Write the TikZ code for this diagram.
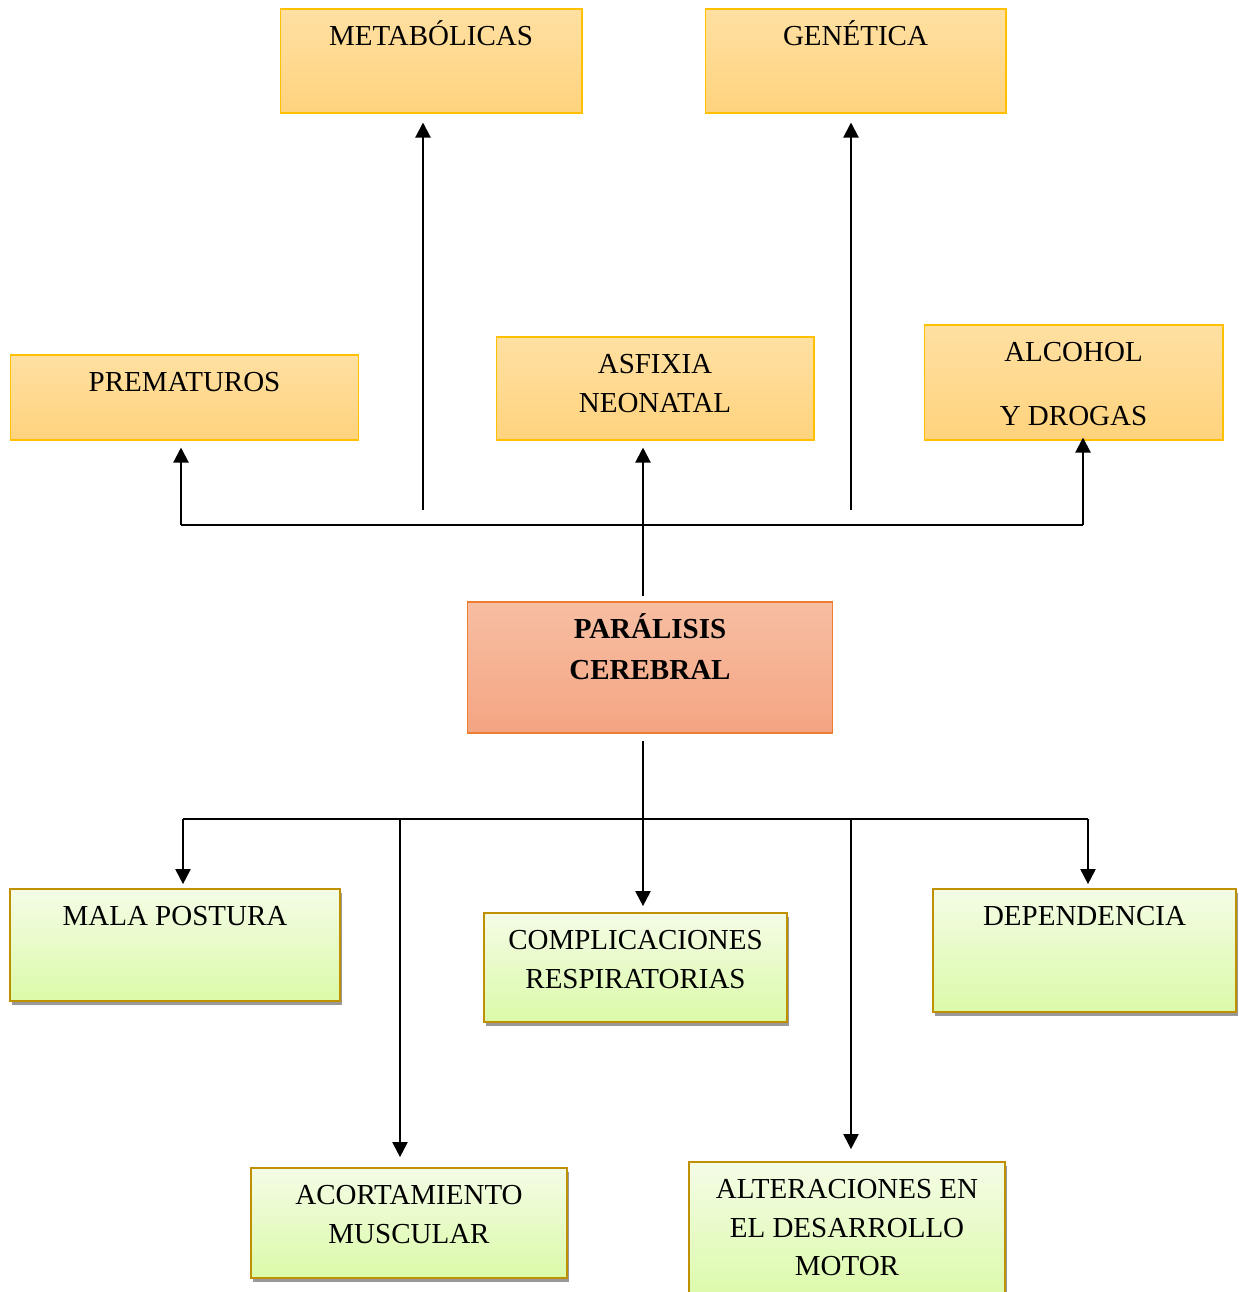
\documentclass[tikz,border=0pt]{standalone}
\usepackage{fontspec}
\setmainfont{Liberation Serif}
\usetikzlibrary{
  arrows.meta,
  shadows,
  calc}
\definecolor{causetop}{RGB}{255,224,162}
\definecolor{causebot}{RGB}{255,211,125}
\definecolor{causeline}{RGB}{255,192,0}
\definecolor{maintop}{RGB}{247,190,163}
\definecolor{mainbot}{RGB}{244,165,130}
\definecolor{mainline}{RGB}{237,125,49}
\definecolor{effecttop}{RGB}{244,252,230}
\definecolor{effectbot}{RGB}{219,250,168}
\definecolor{effectline}{RGB}{191,144,0}
%% fixed height of the first text line, so every box text starts alike
\newcommand{\boxstrut}{\rule{0pt}{15pt}}
\tikzset{
  %% boxtext : the text at the top of a box
  boxtext/.style={
    anchor=north,
    yshift=-0.213cm,
    inner sep=0pt,
    align=center
  },
  %% cause : a cause of the disorder (upper boxes)
  cause/.style={
    rectangle,
    draw=causeline,
    line width=0.6pt,
    top color=causetop,
    bottom color=causebot,
    label={[boxtext]north:\boxstrut#1}
  },
  %% disorder : the central box
  disorder/.style={
    rectangle,
    draw=mainline,
    line width=0.6pt,
    top color=maintop,
    bottom color=mainbot,
    label={[boxtext, font=\fontsize{16.5}{23}\selectfont\bfseries]north:\boxstrut#1}
  },
  %% effect : a consequence (lower boxes)
  effect/.style={
    rectangle,
    draw=effectline,
    line width=1pt,
    top color=effecttop,
    bottom color=effectbot,
    drop shadow={shadow xshift=0.04cm, shadow yshift=-0.08cm, fill=black!40, opacity=1},
    label={[boxtext]north:\boxstrut#1}
  },
  %% link : plain connector
  link/.style={line width=1.2pt},
  %% arrow : connector with a tip
  arrow/.style={link, -{Triangle[width=0.3cm, length=0.3cm]}}
}

\begin{document}
\begin{tikzpicture}
  [x=0.02cm,
  y=-0.02cm,
  font=\fontsize{16.5}{22}\selectfont]

  \useasboundingbox (0, 0) rectangle (1238, 1292);

  %% Causes
  \node (metab) [cause={METABÓLICAS}, minimum width=6.04cm, minimum height=2.08cm]
  at (431, 61) {};
  \node (genet) [cause={GENÉTICA}, minimum width=6.02cm, minimum height=2.08cm]
  at (855.5, 61) {};
  \node (premat) [cause={PREMATUROS}, minimum width=6.98cm, minimum height=1.70cm]
  at (184.5, 397.5) {};
  \node (asfix) [cause={ASFIXIA\\NEONATAL}, minimum width=6.36cm, minimum height=2.06cm]
  at (655, 388.5) {};
  \node (alcoh) [cause={ALCOHOL\\[14pt]Y DROGAS}, minimum width=5.98cm, minimum height=2.30cm]
  at (1073.5, 382.5) {};

  %% Disorder
  \node (pc) [disorder={PARÁLISIS\\CEREBRAL}, minimum width=7.32cm, minimum height=2.62cm]
  at (650, 667.5) {};

  %% Effects
  \node (mala) [effect={MALA POSTURA}, minimum width=6.60cm, minimum height=2.24cm]
  at (175, 945) {};
  \node (compl) [effect={COMPLICACIONES\\RESPIRATORIAS}, minimum width=6.06cm, minimum height=2.18cm]
  at (635.5, 967.5) {};
  \node (depen) [effect={DEPENDENCIA}, minimum width=6.06cm, minimum height=2.46cm]
  at (1084.5, 950.5) {};
  \node (acort) [effect={ACORTAMIENTO\\MUSCULAR}, minimum width=6.32cm, minimum height=2.20cm]
  at (409, 1223) {};
  \node (alter) [effect={ALTERACIONES EN\\EL DESARROLLO\\MOTOR}, minimum width=6.32cm, minimum height=2.80cm]
  at (847, 1232) {};

  %% Upper connections
  \coordinate (upbus) at (643, 525);
  \coordinate (busL) at (181, 525);
  \coordinate (busR) at (1083, 525);
  \coordinate (metabfoot) at (423, 510);
  \coordinate (genetfoot) at (851, 510);

  \draw [arrow, shorten <=0.1cm, shorten >=0.14cm] (pc.north -| upbus) -- (asfix.south -| upbus);
  \draw [link] (busL) -- (busR);
  \draw [arrow, shorten >=0.14cm] (busL) -- (premat.south -| busL);
  \draw [arrow, shorten >=-0.06cm] (busR) -- (alcoh.south -| busR);
  \draw [arrow, shorten >=0.18cm] (metabfoot) -- (metab.south -| metabfoot);
  \draw [arrow, shorten >=0.18cm] (genetfoot) -- (genet.south -| genetfoot);

  %% Lower connections
  \coordinate (downbus) at (643, 819);
  \coordinate (lowL) at (183, 819);
  \coordinate (lowR) at (1088, 819);
  \coordinate (acortroot) at (400, 819);
  \coordinate (alterroot) at (851, 819);

  \draw [arrow, shorten <=0.14cm, shorten >=0.12cm] (pc.south -| downbus) -- (compl.north -| downbus);
  \draw [link] (lowL) -- (lowR);
  \draw [arrow, shorten >=0.08cm] (lowL) -- (mala.north -| lowL);
  \draw [arrow, shorten >=0.08cm] (lowR) -- (depen.north -| lowR);
  \draw [arrow, shorten >=0.2cm] (acortroot) -- (acort.north -| acortroot);
  \draw [arrow, shorten >=0.24cm] (alterroot) -- (alter.north -| alterroot);

\end{tikzpicture}
\end{document}
